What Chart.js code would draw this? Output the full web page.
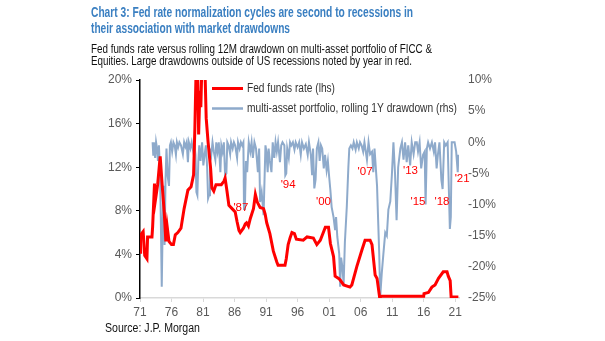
<!DOCTYPE html>
<html>
<head>
<meta charset="utf-8">
<script src="https://cdn.jsdelivr.net/npm/chart.js@4/dist/chart.umd.min.js"></script>
<style>
  html, body { margin: 0; padding: 0; background: #fff; }
  #wrap { width: 605px; height: 341px; }
</style>
</head>
<body>
<div id="wrap"><canvas id="ratesChart" width="605" height="341"></canvas></div>
<script>
// Fed funds rate, % (lhs)
const fedYears = [1971.0, 1971.1, 1971.5, 1971.75, 1972.1, 1972.2, 1972.9, 1973.0, 1973.3, 1973.45, 1973.8,
    1974.2, 1974.5, 1974.85, 1975.1, 1975.3, 1975.6, 1976.0, 1976.3, 1976.6, 1977.0, 1977.5, 1978.0, 1978.6,
    1979.1, 1979.5, 1979.7, 1979.9, 1980.15, 1980.3, 1980.5, 1980.65, 1980.8, 1981.3, 1981.5, 1981.8, 1982.2,
    1982.4, 1982.7, 1983.05, 1983.9, 1984.3, 1984.5, 1984.8, 1985.1, 1985.6, 1986.1, 1986.4, 1986.7, 1986.9,
    1987.4, 1987.7, 1987.9, 1988.2, 1988.5, 1989.0, 1989.3, 1989.6, 1990.05, 1990.6, 1990.85, 1991.1, 1991.6,
    1992.15, 1992.7, 1992.9, 1994.0, 1994.2, 1994.5, 1994.8, 1995.1, 1995.5, 1995.8, 1996.9, 1997.5, 1998.5,
    1999.05, 1999.6, 2000.4, 2000.9, 2001.2, 2001.7, 2001.95, 2002.5, 2002.75, 2003.3, 2004.3, 2004.6, 2005.4,
    2006.2, 2006.7, 2007.5, 2007.8, 2008.3, 2008.6, 2009.0, 2009.35, 2016.0, 2016.05, 2016.75, 2017.3, 2017.8,
    2018.35, 2019.1, 2019.7, 2019.9, 2020.2, 2020.35, 2021.5];
const fedRates = [4.2, 5.8, 6.1, 3.9, 3.6, 5.6, 5.6, 6.5, 10.5, 9.0, 10.4,
    13.0, 10.5, 7.8, 5.2, 6.6, 5.2, 4.9, 4.9, 5.8, 6.0, 6.4, 8.2, 9.9,
    10.2, 11.3, 15.5, 21, 21, 15.0, 19.0, 17.5, 21, 21, 16.5, 14.3, 11.9,
    10.1, 9.8, 10.4, 10.4, 10.7, 11.0, 9.8, 8.5, 8.2, 7.9, 7.0, 6.2, 6.0,
    6.4, 6.8, 6.9, 6.6, 7.3, 8.2, 9.5, 8.8, 8.3, 8.2, 7.7, 6.9, 5.9,
    4.3, 3.3, 3.0, 3.0, 3.6, 4.9, 5.5, 6.0, 5.9, 5.4, 5.3, 5.6, 5.5,
    4.9, 5.3, 6.5, 6.5, 5.0, 3.8, 2.0, 1.8, 1.65, 1.2, 1.0, 1.2, 2.9,
    4.4, 5.3, 5.3, 4.9, 2.1, 1.8, 0.1, 0.15, 0.15, 0.4, 0.5, 1.0, 1.2,
    1.8, 2.4, 2.4, 2.0, 1.6, 0.1, 0.1];

// Multi-asset portfolio, rolling 1Y drawdown, % (rhs)
const ddYears = [1973.0, 1973.1, 1973.2, 1973.4, 1973.55, 1973.7, 1973.85, 1974.0, 1974.15, 1974.3, 1974.45,
    1974.6, 1974.75, 1974.9, 1975.05, 1975.2, 1975.4, 1975.6, 1975.75, 1975.9, 1976.1, 1976.3, 1976.5, 1976.7,
    1976.85, 1977.05, 1977.25, 1977.5, 1977.8, 1978.0, 1978.2, 1978.4, 1978.6, 1978.75, 1979.0, 1979.2, 1979.45,
    1979.6, 1979.8, 1979.95, 1980.1, 1980.25, 1980.4, 1980.6, 1980.85, 1981.05, 1981.25, 1981.45, 1981.65, 1981.8,
    1981.95, 1982.1, 1982.3, 1982.5, 1982.7, 1982.95, 1983.1, 1983.3, 1983.5, 1983.75, 1983.9, 1984.1, 1984.3,
    1984.5, 1984.7, 1984.85, 1985.05, 1985.3, 1985.45, 1985.7, 1985.9, 1986.1, 1986.4, 1986.55, 1986.8, 1987.0,
    1987.2, 1987.4, 1987.5, 1987.65, 1987.8, 1988.0, 1988.25, 1988.5, 1988.7, 1988.9, 1989.15, 1989.4, 1989.7,
    1989.9, 1990.05, 1990.3, 1990.6, 1990.9, 1991.05, 1991.25, 1991.4, 1991.6, 1991.85, 1992.05, 1992.3, 1992.5,
    1992.7, 1992.9, 1993.2, 1993.4, 1993.6, 1993.9, 1994.05, 1994.2, 1994.35, 1994.6, 1994.8, 1995.0, 1995.25,
    1995.5, 1995.7, 1996.0, 1996.25, 1996.5, 1996.7, 1997.0, 1997.3, 1997.6, 1997.8, 1998.1, 1998.3, 1998.45,
    1998.65, 1998.85, 1999.05, 1999.3, 1999.5, 1999.7, 1999.9, 2000.15, 2000.35, 2000.6, 2000.8, 2001.0, 2001.2,
    2001.4, 2001.7, 2001.95, 2002.1, 2002.3, 2002.6, 2002.75, 2002.9, 2003.1, 2003.3, 2003.5, 2003.8, 2004.05,
    2004.2, 2004.45, 2004.7, 2004.9, 2005.2, 2005.4, 2005.7, 2005.9, 2006.15, 2006.4, 2006.6, 2007.0, 2007.25,
    2007.5, 2007.8, 2008.0, 2008.2, 2008.45, 2008.6, 2008.8, 2008.95, 2009.1, 2009.35, 2009.6, 2009.9, 2010.15,
    2010.4, 2010.7, 2010.95, 2011.2, 2011.45, 2011.7, 2011.95, 2012.3, 2012.55, 2012.8, 2013.05, 2013.3, 2013.55,
    2013.85, 2014.1, 2014.4, 2014.65, 2014.9, 2015.1, 2015.35, 2015.6, 2015.9, 2016.15, 2016.3, 2016.5, 2016.7,
    2017.0, 2017.3, 2017.6, 2017.8, 2018.05, 2018.25, 2018.5, 2018.8, 2019.0, 2019.25, 2019.5, 2019.8, 2020.15,
    2020.3, 2020.45, 2020.9, 2021.15, 2021.4, 2021.5];
const ddValues = [0, -2, 0, -2.5, 0, -1, -3, -0.5, -4, -12, -23.2,
    -13, -7, -16.5, -6, -1, -5.5, -7, -0.5, 0, -1.5, 0, -0.5, -2,
    0, -0.8, 0, -0.5, -1.9, 0, -0.7, 0, -3.2, 0, -1, 0, -1.5,
    0, -2, -8, -8.5, -3, -0.5, -3, 0, -3.7, -2, -0.5, -4, -9,
    -8.5, -1, -2, 0, -1.5, -2.8, 0, -1.5, 0, -4.8, -0.5, -1.5, 0,
    -5.3, -5, 0, -0.5, -1.9, 0, -1, 0, -0.5, -2.5, 0, -1, 0,
    -0.5, 0, -10.7, -10, -3, -4.8, 0, -1.5, 0, -2.5, 0, -1, -4.8,
    -1, -9.6, -8, -11.7, -0.5, -1.5, -4.8, -1, -3, -4.8, 0, -2.5, 0,
    -1.5, 0, -3.2, -0.5, 0, -0.5, -5.3, -5, -1, -2.5, 0, -0.5, 0,
    -1.2, 0, -0.8, 0, -2, 0, -1, -0.3, -2, 0, -2, -5.3, -1,
    -7.4, -6, -1, 0, -3, -0.5, -1, -4.2, -2, -4.5, -3, -5.5, -7.7,
    -10.4, -12, -14.1, -12, -15.2, -17.9, -23.2, -18.5, -20, -22.7, -16, -10.4, -4,
    -1, -0.5, -1, 0, -1.2, 0, -1, 0, -0.5, -1.5, 0, -2.8, 0,
    -1.9, -1.5, -4.8, -1, -4.8, -7, -13.3, -18, -24.8, -21, -18, -14.5, -15,
    -10.8, -9.5, -5.3, 0, -5, -12.5, -4, -1, 0, -2.8, 0, -3.2, -0.5,
    -3.7, 0, -1.9, 0, 0, -1.5, 0, -4.2, -2, -1.5, -10, -1, 0,
    -1, 0, -1.5, 0, -4.2, -2, 0, -6, -7.5, 0, -0.5, 0, -13.9,
    -12, 0, 0, -1.5, -4.8, -2];

// Axis ticks
const xTickYears = [1971, 1976, 1981, 1986, 1991, 1996, 2001, 2006, 2011, 2016, 2021];
const xTickLabels = ['71', '76', '81', '86', '91', '96', '01', '06', '11', '16', '21'];

// Drawdowns outside US recessions, placed at (year, rhs level)
const noteLabels = ["'87", "'94", "'00", "'07", "'13", "'15", "'18", "'21"];
const noteYears = [1987.0, 1994.5, 2000.1, 2006.7, 2013.9, 2015.1, 2018.9, 2022.1];
const noteLevels = [-10.6, -6.9, -9.5, -4.8, -4.65, -9.5, -9.6, -5.8];

const RED = '#ff0000';
const BLUE_GREY = '#8eaacb';
const NARROW = '"Liberation Sans Narrow", "Arial Narrow", "Liberation Sans", Arial, sans-serif';
const SANS = '"Liberation Sans", Arial, sans-serif';

// squeeze a line of text horizontally to a given width
function fitText(ctx, text, x, y, w) {
    const m = ctx.measureText(text).width;
    ctx.save();
    ctx.translate(x, y);
    ctx.scale(w / m, 1);
    ctx.fillText(text, 0, 0);
    ctx.restore();
}

const textPlugin = {
    id: 'headerAndNotes',
    afterDraw(chart) {
        const { ctx, scales: { x, y1 } } = chart;
        ctx.save();
        ctx.textBaseline = 'middle';
        ctx.textAlign = 'left';

        // title
        ctx.fillStyle = '#3a7fc1';
        ctx.font = 'bold 15px ' + NARROW;
        fitText(ctx, 'Chart 3: Fed rate normalization cycles are second to recessions in', 91, 13, 322);
        fitText(ctx, 'their association with market drawdowns', 91, 29, 199);

        // subtitle
        ctx.fillStyle = '#111';
        ctx.font = '13px ' + NARROW;
        fitText(ctx, 'Fed funds rate versus rolling 12M drawdown on multi-asset portfolio of FICC &', 91, 49.5, 341);
        fitText(ctx, 'Equities. Large drawdowns outside of US recessions noted by year in red.', 91, 61.5, 321);

        // source
        ctx.font = '12.5px ' + NARROW;
        fitText(ctx, 'Source: J.P. Morgan', 105, 329, 95);

        // legend
        ctx.lineCap = 'butt';
        ctx.strokeStyle = RED;
        ctx.lineWidth = 3;
        ctx.beginPath();
        ctx.moveTo(212, 88.5);
        ctx.lineTo(243, 88.5);
        ctx.stroke();
        ctx.strokeStyle = BLUE_GREY;
        ctx.lineWidth = 2.5;
        ctx.beginPath();
        ctx.moveTo(212, 108.5);
        ctx.lineTo(243, 108.5);
        ctx.stroke();
        ctx.fillStyle = '#333';
        ctx.font = '12.5px ' + NARROW;
        fitText(ctx, 'Fed funds rate (lhs)', 247, 88.5, 88);
        fitText(ctx, 'multi-asset portfolio, rolling 1Y drawdown (rhs)', 247, 108.5, 210);

        // red year notes
        ctx.fillStyle = RED;
        ctx.font = '11.5px ' + NARROW;
        ctx.textAlign = 'center';
        noteLabels.forEach((t, i) => {
            ctx.fillText(t, x.getPixelForValue(noteYears[i]), y1.getPixelForValue(noteLevels[i]));
        });
        ctx.restore();
    }
};

const tickFont = { family: SANS, size: 12 };

new Chart(document.getElementById('ratesChart'), {
    type: 'line',
    data: {
        datasets: [
            {
                label: 'Fed funds rate (lhs)',
                data: fedYears.map((yr, i) => ({ x: yr, y: fedRates[i] })),
                borderColor: RED,
                borderWidth: 3,
                pointRadius: 0,
                tension: 0,
                yAxisID: 'y'
            },
            {
                label: 'multi-asset portfolio, rolling 1Y drawdown (rhs)',
                data: ddYears.map((yr, i) => ({ x: yr, y: ddValues[i] })),
                borderColor: BLUE_GREY,
                borderWidth: 2,
                pointRadius: 0,
                tension: 0,
                yAxisID: 'y1'
            }
        ]
    },
    options: {
        responsive: false,
        animation: false,
        devicePixelRatio: 1,
        layout: { padding: { top: 80, left: 0, right: 0, bottom: 0 } },
        plugins: {
            legend: { display: false },
            tooltip: { enabled: false }
        },
        scales: {
            x: {
                type: 'linear',
                min: 1971,
                max: 2021.6,
                afterBuildTicks: (s) => { s.ticks = xTickYears.map(v => ({ value: v })); },
                afterFit: (s) => { s.height = 43; },
                ticks: {
                    autoSkip: false,
                    maxRotation: 0,
                    padding: 3,
                    color: '#595959',
                    font: tickFont,
                    callback: (v) => xTickLabels[xTickYears.indexOf(v)]
                },
                grid: { drawOnChartArea: false, tickLength: 4, color: '#d9d9d9' },
                border: { color: '#d9d9d9', width: 1.5 }
            },
            y: {
                position: 'left',
                min: 0,
                max: 20,
                afterFit: (s) => { s.width = 140; },
                ticks: {
                    stepSize: 4,
                    padding: 4,
                    color: '#595959',
                    font: tickFont,
                    callback: (v) => v + '%'
                },
                grid: { drawOnChartArea: false, tickLength: 4, color: '#000' },
                border: { color: '#000', width: 1.5 }
            },
            y1: {
                position: 'right',
                min: -25,
                max: 10,
                afterFit: (s) => { s.width = 146; },
                ticks: {
                    stepSize: 5,
                    padding: 9,
                    color: '#595959',
                    font: tickFont,
                    callback: (v) => v + '%'
                },
                grid: { display: false, drawTicks: false },
                border: { display: false }
            }
        }
    },
    plugins: [textPlugin]
});
</script>
</body>
</html>
